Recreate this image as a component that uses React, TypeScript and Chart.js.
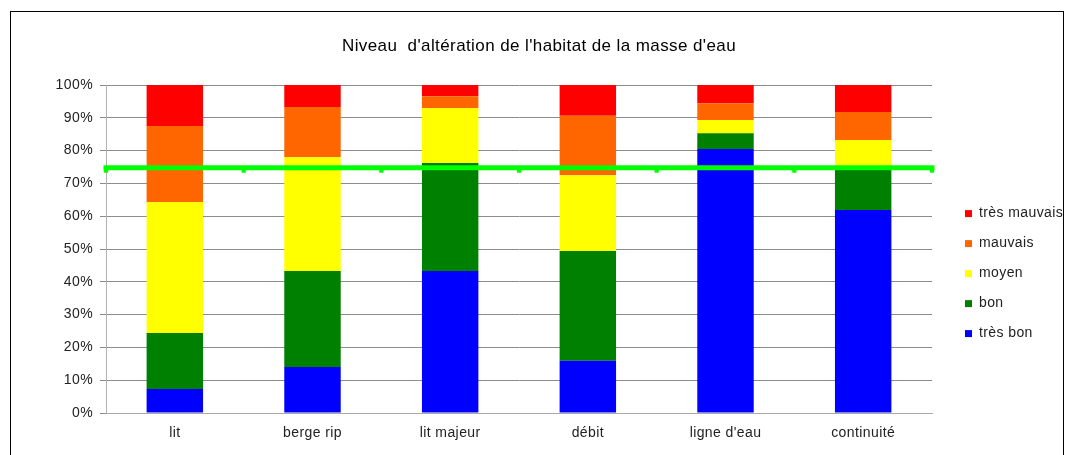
import React, { useEffect, useRef } from 'react';
import { Chart, registerables } from 'chart.js';

Chart.register(...registerables);

const categories = ['lit', 'berge rip', 'lit majeur', 'débit', "ligne d'eau", 'continuité'];
const tresBon = [7.3, 14.0, 43.3, 15.9, 80.5, 61.9];
const bon = [17.1, 29.3, 32.9, 33.5, 4.8, 13.3];
const moyen = [39.9, 34.7, 16.8, 23.1, 4.0, 8.0];
const mauvais = [23.2, 15.3, 3.6, 18.1, 5.1, 8.6];
const tresMauvais = [12.5, 6.7, 3.4, 9.4, 5.6, 8.2];

const seriesLabels = ['très bon', 'bon', 'moyen', 'mauvais', 'très mauvais'];
const seriesColors = ['#0000FF', '#008000', '#FFFF00', '#FF6600', '#FF0000'];

const thresholdX = [0, 1, 2, 3, 4, 5, 6];
const thresholdLine = [74.8, 74.8, 74.8, 74.8, 74.8, 74.8, 74.8];
const thresholdMarkers = [73.9, 73.9, 73.9, 73.9, 73.9, 73.9, 73.9];

const yTicks = [0, 10, 20, 30, 40, 50, 60, 70, 80, 90, 100];

const FONT = "'Liberation Sans', Arial, sans-serif";

const spacingPlugin = {
  id: 'letterSpacing',
  beforeUpdate(chart: any) {
    chart.ctx.letterSpacing = '0.4px';
  },
  beforeDraw(chart: any) {
    chart.ctx.letterSpacing = '0.4px';
  },
};

export default function App() {
  const ref = useRef<HTMLCanvasElement>(null);

  useEffect(() => {
    if (!ref.current) return;
    const series = [tresBon, bon, moyen, mauvais, tresMauvais];
    const barSets = series.map((d, i) => ({
      type: 'bar' as const,
      label: seriesLabels[i],
      data: d,
      backgroundColor: seriesColors[i],
      borderWidth: 0,
      xAxisID: 'x',
      yAxisID: 'y',
      stack: 'main',
      grouped: false,
      categoryPercentage: 1,
      barPercentage: 0.41,
      order: 2,
    }));
    const chart = new Chart(ref.current, {
      type: 'bar',
      plugins: [spacingPlugin],
      data: {
        labels: categories,
        datasets: [
          ...barSets,
          {
            type: 'line' as const,
            label: 'seuil',
            data: thresholdX.map((x, i) => ({ x, y: thresholdLine[i] })),
            borderColor: '#00FF00',
            backgroundColor: '#00FF00',
            borderWidth: 5,
            borderCapStyle: 'square',
            pointRadius: 0,
            xAxisID: 'x2',
            yAxisID: 'y2',
            clip: false,
            order: 0,
          } as any,
          {
            type: 'line' as const,
            label: 'seuil points',
            data: thresholdX.map((x, i) => ({ x, y: thresholdMarkers[i] })),
            showLine: false,
            pointStyle: 'rect',
            pointRadius: 3,
            pointBorderWidth: 0,
            pointBackgroundColor: '#00FF00',
            borderColor: '#00FF00',
            xAxisID: 'x2',
            yAxisID: 'y2',
            clip: false,
            order: 1,
          } as any,
        ],
      },
      options: {
        animation: false,
        responsive: false,
        maintainAspectRatio: false,
        layout: { padding: { left: 10, right: 0, top: 0, bottom: 0 } },
        plugins: {
          title: {
            display: true,
            text: "Niveau  d'altération de l'habitat de la masse d'eau",
            color: '#000',
            font: { family: FONT, size: 17, weight: 'normal' },
            padding: { top: 36, bottom: 28.6 },
          },
          legend: {
            position: 'right',
            align: 'center',
            reverse: true,
            maxWidth: 119,
            title: { display: true, text: ' ', font: { size: 1 }, padding: { top: 46, bottom: 45 } },
            labels: {
              boxWidth: 7,
              boxHeight: 7,
              padding: 16,
              color: '#222',
              font: { family: FONT, size: 14 },
              filter: (item: any) => item.datasetIndex < 5,
            },
          },
          tooltip: { enabled: false },
        },
        scales: {
          x: {
            type: 'category',
            stacked: true,
            offset: true,
            grid: { display: false, drawTicks: false },
            border: { display: true, color: '#aaaaaa', width: 1 },
            ticks: { color: '#222', font: { family: FONT, size: 14 }, padding: 12, maxRotation: 0 },
            afterFit: (s: any) => { s.height = 42; },
          },
          x2: {
            type: 'linear',
            display: false,
            offset: false,
            grid: { offset: false },
            min: 0,
            max: 6,
          },
          y: {
            stacked: true,
            min: 0,
            max: 100,
            afterBuildTicks: (s: any) => { s.ticks = yTicks.map((v) => ({ value: v })); },
            grid: { color: '#8c8c8c', tickLength: 6, lineWidth: 1 },
            border: { display: true, color: '#b0b0b0', width: 1 },
            ticks: {
              color: '#222',
              font: { family: FONT, size: 14 },
              padding: 7,
              callback: (v: any) => v + '%',
            },
            afterFit: (s: any) => { s.width = 96; },
          },
          y2: {
            type: 'linear',
            display: false,
            min: 0,
            max: 100,
          },
          yPad: {
            type: 'linear',
            position: 'right',
            display: true,
            grid: { display: false, drawTicks: false },
            border: { display: false },
            ticks: { display: false },
            afterFit: (s: any) => { s.width = 17; },
          },
        },
      } as any,
    });
    return () => chart.destroy();
  }, []);

  return (
    <div style={{ position: 'fixed', left: 0, top: 0, width: 1068, height: 455, background: '#fff', overflow: 'hidden' }}>
      <canvas ref={ref} width={1068} height={455} style={{ position: 'absolute', left: 0, top: 0, width: 1068, height: 455 }} />
      <div
        style={{
          position: 'absolute',
          left: 10,
          top: 11,
          width: 1052,
          height: 460,
          borderLeft: '1px solid #000',
          borderTop: '1px solid #000',
          borderRight: '1px solid #000',
          pointerEvents: 'none',
        }}
      />
    </div>
  );
}
